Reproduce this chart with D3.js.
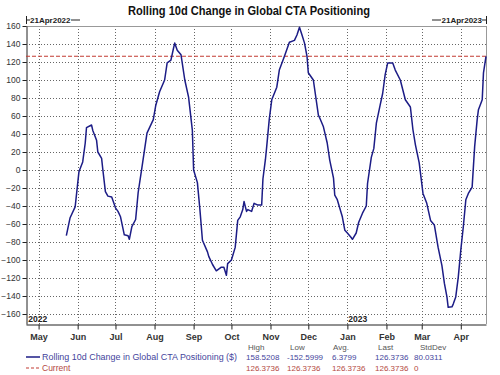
<!DOCTYPE html>
<html>
<head>
<meta charset="utf-8">
<script src="https://cdn.jsdelivr.net/npm/d3@7"></script>
<style>
  body { margin: 0; background: #fff; }
  svg { display: block; font-family: Arial, "Liberation Sans", sans-serif; }
</style>
</head>
<body>
<svg id="chart" width="500" height="375"></svg>
<script>
const width = 500, height = 375;
const svg = d3.select("#chart");

// data
const positioning = [
  ["2022-05-23",-73],["2022-05-26",-53],["2022-05-30",-41],["2022-06-02",-2],["2022-06-05",9],
  ["2022-06-07",30],["2022-06-08",47],["2022-06-12",50],["2022-06-13",44],["2022-06-16",33],
  ["2022-06-17",20],["2022-06-20",13],["2022-06-21",0],["2022-06-23",-24],["2022-06-25",-29],
  ["2022-06-28",-30],["2022-07-01",-42],["2022-07-03",-46],["2022-07-05",-52],["2022-07-08",-72],
  ["2022-07-11",-73],["2022-07-12",-77],["2022-07-14",-63],["2022-07-17",-55],["2022-07-19",-25],
  ["2022-07-22",3],["2022-07-26",41],["2022-07-31",56],["2022-08-02",72],["2022-08-05",87],
  ["2022-08-09",100],["2022-08-11",119],["2022-08-14",122],["2022-08-16",135],["2022-08-17",141],
  ["2022-08-19",133],["2022-08-22",128],["2022-08-25",100],["2022-08-28",81],["2022-08-31",44],
  ["2022-09-01",0],["2022-09-04",-14],["2022-09-06",-44],["2022-09-08",-78],["2022-09-12",-91],
  ["2022-09-13",-96],["2022-09-16",-105],["2022-09-19",-112],["2022-09-23",-108],["2022-09-25",-108],
  ["2022-09-27",-117],["2022-09-28",-104],["2022-10-01",-100],["2022-10-04",-86],["2022-10-06",-56],
  ["2022-10-08",-52],["2022-10-10",-44],["2022-10-11",-35],["2022-10-13",-46],["2022-10-14",-44],
  ["2022-10-17",-46],["2022-10-19",-37],["2022-10-22",-39],["2022-10-25",-39],["2022-10-26",-10],
  ["2022-10-28",12],["2022-10-29",26],["2022-10-31",56],["2022-11-02",78],["2022-11-06",92],
  ["2022-11-08",111],["2022-11-12",126],["2022-11-16",142],["2022-11-20",144],["2022-11-22",150],
  ["2022-11-24",158.52],["2022-11-26",150],["2022-11-28",141],["2022-11-30",126],["2022-12-01",108],
  ["2022-12-05",100],["2022-12-09",61],["2022-12-10",58],["2022-12-13",48],["2022-12-16",30],
  ["2022-12-18",11],["2022-12-21",-9],["2022-12-22",-28],["2022-12-24",-33],["2022-12-28",-52],
  ["2022-12-30",-67],["2023-01-01",-70],["2023-01-04",-75],["2023-01-05",-77],["2023-01-08",-70],
  ["2023-01-10",-58],["2023-01-13",-48],["2023-01-16",-40],["2023-01-17",-15],["2023-01-20",14],
  ["2023-01-22",24],["2023-01-24",52],["2023-01-27",72],["2023-01-29",85],["2023-01-31",106],
  ["2023-02-02",119],["2023-02-06",119],["2023-02-08",111],["2023-02-12",100],["2023-02-16",78],
  ["2023-02-20",70],["2023-02-22",45],["2023-02-24",28],["2023-02-27",8],["2023-03-02",-26],
  ["2023-03-05",-37],["2023-03-08",-56],["2023-03-11",-61],["2023-03-14",-86],["2023-03-17",-106],
  ["2023-03-19",-126],["2023-03-21",-141],["2023-03-22",-152.6],["2023-03-25",-152],["2023-03-26",-149],
  ["2023-03-28",-141],["2023-03-30",-119],["2023-04-01",-89],["2023-04-03",-63],["2023-04-05",-33],
  ["2023-04-07",-26],["2023-04-10",-19],["2023-04-12",26],["2023-04-14",56],["2023-04-15",67],
  ["2023-04-18",78],["2023-04-19",108],["2023-04-21",126.37]
];
const currentValue = 126.3736;
const yTicks = d3.range(-160, 161, 20);
const statHeaders = ["High", "Low", "Avg.", "Last", "StdDev"];
const seriesStats = ["158.5208", "-152.5999", "6.3799", "126.3736", "80.0311"];
const currentStats = ["126.3736", "126.3736", "126.3736", "126.3736", "0"];
const seriesName = "Rolling 10d Change in Global CTA Positioning ($)";
const currentName = "Current";

const parseDate = d3.timeParse("%Y-%m-%d");
const data = positioning.map(([d, v]) => ({ date: parseDate(d), value: v }));

const startDate = parseDate("2022-04-21"), endDate = parseDate("2023-04-21");

// plot box
const plotLeft = 26, plotRight = 486, plotTop = 26, plotBottom = 324;

const x = d3.scaleTime().domain([startDate, endDate]).range([plotLeft, plotRight]);
const y = d3.scaleLinear().domain([-171.1, 160]).range([plotBottom, plotTop]);

const navy = "#1c1c86", red = "#c23b32";
const legendBlue = "#44449c", legendRed = "#b4483f";

svg.append("rect").attr("width", width).attr("height", height).attr("fill", "#fff");

// title
svg.append("text")
  .attr("x", 249).attr("y", 15)
  .attr("text-anchor", "middle")
  .attr("font-size", 13).attr("font-weight", "bold").attr("fill", "#111")
  .attr("textLength", 242).attr("lengthAdjust", "spacingAndGlyphs")
  .text("Rolling 10d Change in Global CTA Positioning");

const months = d3.timeMonth.range(parseDate("2022-05-01"), parseDate("2023-05-01"));

// grid (dotted)
const grid = svg.append("g").attr("stroke", "#666").attr("stroke-width", 1)
  .attr("stroke-dasharray", "1,2");
grid.selectAll(".hgrid").data(yTicks.filter(t => t < 160))
  .join("line")
    .attr("x1", plotLeft).attr("x2", plotRight)
    .attr("y1", d => Math.round(y(d)) + 0.5).attr("y2", d => Math.round(y(d)) + 0.5);
grid.selectAll(".vgrid").data(months)
  .join("line")
    .attr("x1", d => Math.round(x(d)) + 0.5).attr("x2", d => Math.round(x(d)) + 0.5)
    .attr("y1", plotTop).attr("y2", plotBottom);

// box: gray top/right, dark left/bottom
svg.append("line").attr("x1", plotLeft).attr("x2", plotRight).attr("y1", plotTop + 0.5).attr("y2", plotTop + 0.5)
  .attr("stroke", "#999");
svg.append("line").attr("x1", plotRight + 0.5).attr("x2", plotRight + 0.5).attr("y1", plotTop).attr("y2", plotBottom)
  .attr("stroke", "#999");

// axes
const yAxis = svg.append("g")
  .attr("transform", `translate(${plotLeft + 0.5},0)`)
  .call(d3.axisLeft(y).tickValues(yTicks).tickSize(4).tickPadding(2).tickSizeOuter(0));
const xAxis = svg.append("g")
  .attr("transform", `translate(0,${plotBottom + 0.5})`)
  .call(d3.axisBottom(x).tickValues(months).tickFormat(d3.timeFormat("%b"))
    .tickSize(5).tickPadding(4).tickSizeOuter(0));

[yAxis, xAxis].forEach(a => {
  a.select(".domain").attr("stroke", "#222");
  a.selectAll(".tick line").attr("stroke", "#222");
  a.selectAll("text").attr("fill", "#333").attr("font-family", "Arial, 'Liberation Sans', sans-serif");
});
yAxis.selectAll("text").attr("font-size", 8.5);
xAxis.selectAll("text").attr("font-size", 9).attr("font-weight", "bold");

// year labels
[["2022", parseDate("2022-04-22")], ["2023", parseDate("2023-01-01")]].forEach(([t, d]) => {
  svg.append("text")
    .attr("x", x(d) + 1).attr("y", plotBottom - 2)
    .attr("font-size", 8.5).attr("font-weight", "bold").attr("fill", "#222")
    .text(t);
});

// date range markers at the top
const rangeY = 20;
svg.append("line").attr("x1", plotLeft + 0.5).attr("x2", plotLeft + 0.5).attr("y1", 16).attr("y2", 24).attr("stroke", "#222");
svg.append("line").attr("x1", plotLeft).attr("x2", plotLeft + 4).attr("y1", rangeY).attr("y2", rangeY).attr("stroke", "#222");
svg.append("text").attr("x", plotLeft + 4).attr("y", rangeY + 3)
  .attr("font-size", 8).attr("font-weight", "bold").attr("fill", "#222").text("21Apr2022");
svg.append("line").attr("x1", 71).attr("x2", 80).attr("y1", rangeY).attr("y2", rangeY).attr("stroke", "#222");

svg.append("line").attr("x1", plotRight + 0.5).attr("x2", plotRight + 0.5).attr("y1", 16).attr("y2", 24).attr("stroke", "#222");
svg.append("line").attr("x1", plotRight - 4).attr("x2", plotRight).attr("y1", rangeY).attr("y2", rangeY).attr("stroke", "#222");
svg.append("text").attr("x", plotRight - 4).attr("y", rangeY + 3).attr("text-anchor", "end")
  .attr("font-size", 8).attr("font-weight", "bold").attr("fill", "#222").text("21Apr2023");
svg.append("line").attr("x1", 432).attr("x2", 441).attr("y1", rangeY).attr("y2", rangeY).attr("stroke", "#222");

// current level
svg.append("line")
  .attr("x1", plotLeft).attr("x2", plotRight)
  .attr("y1", y(currentValue)).attr("y2", y(currentValue))
  .attr("stroke", red).attr("stroke-width", 1.2).attr("stroke-dasharray", "4,2");

// series
const line = d3.line().x(d => x(d.date)).y(d => y(d.value));
svg.append("path")
  .datum(data)
  .attr("d", line)
  .attr("fill", "none")
  .attr("stroke", navy)
  .attr("stroke-width", 1.5)
  .attr("stroke-linejoin", "round");

// legend
const legend = svg.append("g").attr("font-size", 8.5);
legend.append("line").attr("x1", 26).attr("x2", 40).attr("y1", 357).attr("y2", 357)
  .attr("stroke", navy).attr("stroke-width", 1.5);
legend.append("text").attr("x", 42).attr("y", 360).attr("fill", legendBlue)
  .attr("textLength", 195).attr("lengthAdjust", "spacingAndGlyphs").text(seriesName);
legend.append("line").attr("x1", 26).attr("x2", 40).attr("y1", 368).attr("y2", 368)
  .attr("stroke", red).attr("stroke-width", 1.2).attr("stroke-dasharray", "3,2");
legend.append("text").attr("x", 42).attr("y", 371).attr("fill", legendRed).text(currentName);

const headerX = [248, 290, 333, 378, 420];
const valueX = [246, 287, 332, 375, 414];
const stats = legend.append("g").attr("font-size", 8);
stats.selectAll(".hdr").data(statHeaders).join("text")
  .attr("x", (d, i) => headerX[i]).attr("y", 350).attr("fill", "#555").text(d => d);
stats.selectAll(".sv").data(seriesStats).join("text")
  .attr("x", (d, i) => valueX[i]).attr("y", 360).attr("fill", legendBlue).text(d => d);
stats.selectAll(".cv").data(currentStats).join("text")
  .attr("x", (d, i) => valueX[i]).attr("y", 371).attr("fill", legendRed).text(d => d);
</script>
</body>
</html>
